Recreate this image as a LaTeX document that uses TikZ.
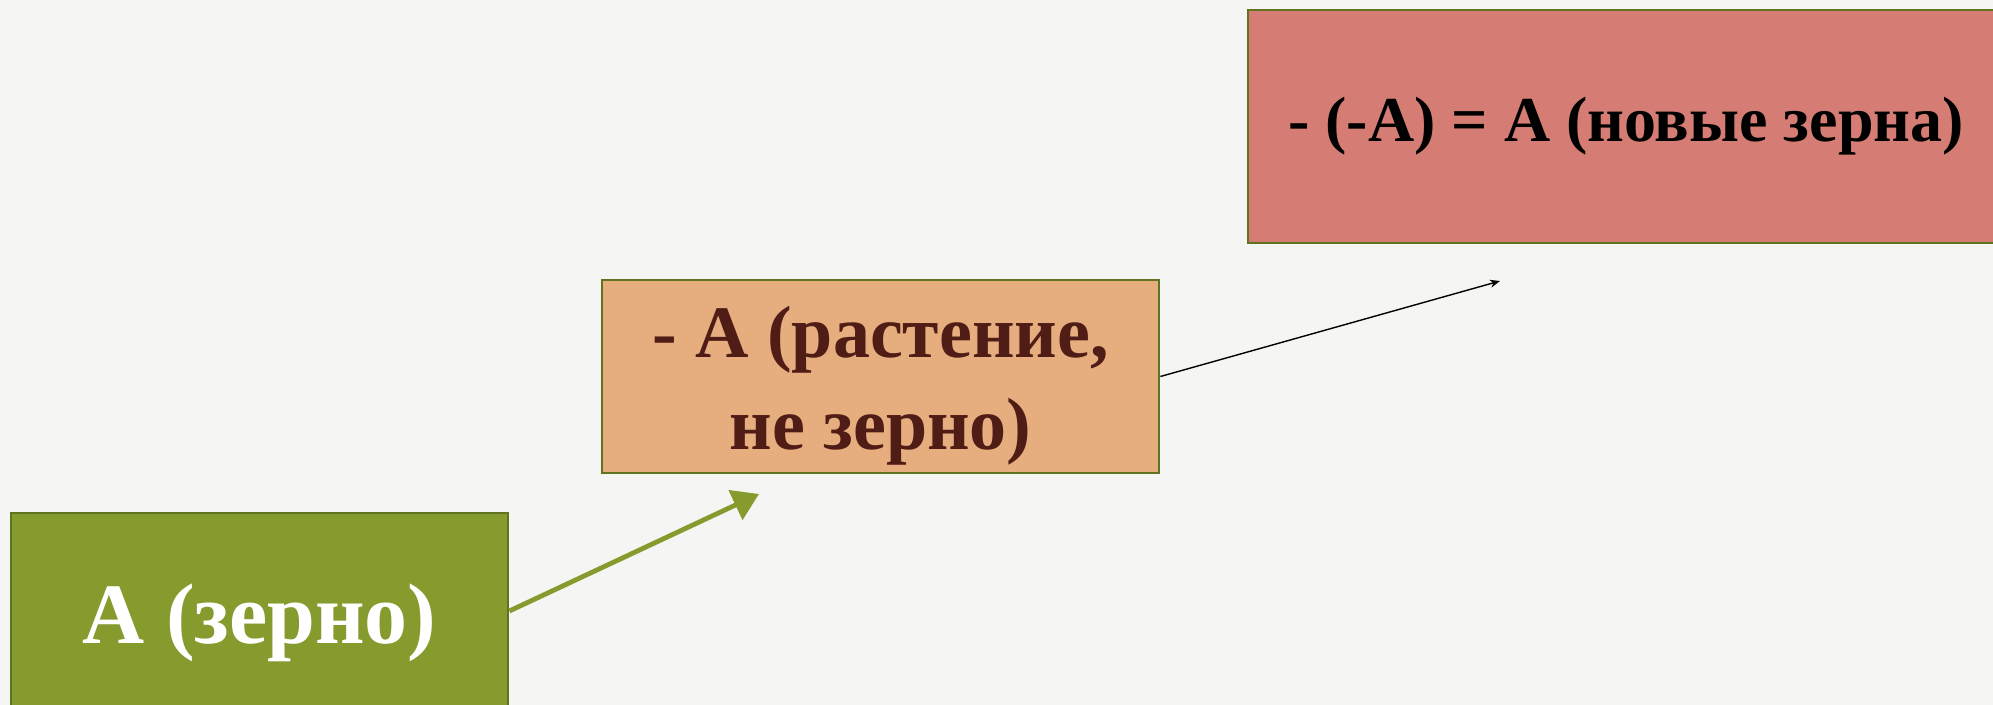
\documentclass[tikz,border=0pt]{standalone}
\usepackage{fontspec}
\setmainfont{Liberation Serif}
\usetikzlibrary{arrows.meta}
\definecolor{bgc}{RGB}{245,245,243}
\definecolor{gfill}{RGB}{134,155,46}
\definecolor{gline}{RGB}{96,116,32}
\definecolor{ofill}{RGB}{230,174,126}
\definecolor{otext}{RGB}{80,28,22}
\definecolor{rfill}{RGB}{213,125,116}
\tikzset{
  box/.style={draw=gline, line width=1.4pt, rectangle, inner sep=0pt, align=center, font=\bfseries},
  lbl/.style={inner sep=0pt, align=center},
}
\begin{document}
\begin{tikzpicture}[x=0.5pt,y=-0.5pt]
\fill[bgc] (0,0) rectangle (1993,705);
\useasboundingbox (0,0) rectangle (1993,705);
\node[box, fill=gfill, text=white, minimum width=248.5pt, minimum height=110pt, font=\bfseries\fontsize{43}{47}\selectfont] (g) at (259.5,623) {А (зерно)};
\node[box, fill=ofill, minimum width=278.5pt, minimum height=96.5pt] (o) at (880.5,376.5) {};
\node[lbl, text=otext, font=\bfseries\fontsize{37}{46}\selectfont] (ot) at (880.5,386) {- А (растение,\\не зерно)};
\node[box, fill=rfill, text=black, minimum width=378pt, minimum height=116.5pt, font=\bfseries\fontsize{32}{36}\selectfont] (r) at (1626,126.5) {- (-А) = А (новые зерна)};
\coordinate (ge) at (759,494);
\coordinate (oe) at (1500,281);
\draw[gfill, line width=2.4pt, -{Triangle[length=13pt,width=16pt]}] (g.east |- 0,611) -- (ge);
\draw[black, line width=0.7pt, -{Stealth[length=5pt,width=4pt]}] (o.east) -- (oe);
\end{tikzpicture}
\end{document}
